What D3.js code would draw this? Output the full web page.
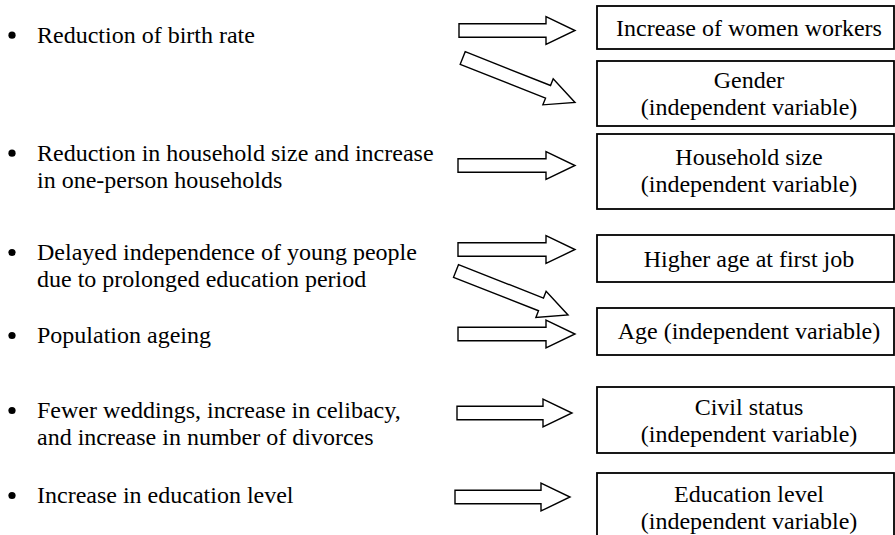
<!DOCTYPE html>
<html><head><meta charset="utf-8">
<script src="https://cdn.jsdelivr.net/npm/d3@7"></script>
<style>
body{margin:0;background:#fff}
svg{display:block}
svg text{font-family:"Liberation Serif","Times New Roman",Times,"DejaVu Serif",serif;}
</style>
</head><body><svg id="c" width="895" height="535"></svg>
<script>
// ---- content ----
const causes = [
  ["Reduction of birth rate"],
  ["Reduction in household size and increase", "in one-person households"],
  ["Delayed independence of young people", "due to prolonged education period"],
  ["Population ageing"],
  ["Fewer weddings, increase in celibacy,", "and increase in number of divorces"],
  ["Increase in education level"]
];
const factors = [
  ["Increase of women workers"],
  ["Gender", "(independent variable)"],
  ["Household size", "(independent variable)"],
  ["Higher age at first job"],
  ["Age (independent variable)"],
  ["Civil status", "(independent variable)"],
  ["Education level", "(independent variable)"]
];
// [cause index, factor index]
const links = [[0,0],[0,1],[1,2],[2,3],[2,4],[3,4],[4,5],[5,6]];

// ---- layout ----
const FS = 24, LH = 27.3;
const causeBaseline = [42.7, 160.7, 260, 343, 418, 503];
const boxTop    = [6, 61, 134, 235, 308, 387, 473];
const boxBottom = [49, 126, 209, 282, 355, 453, 570];
const boxBaseline = [36, 88, 165, 266.7, 339, 415, 502];
const boxX0 = 597, boxX1 = 894, boxTextX = 749;
const bulletX = 12, textX = 37;
const arrowGeom = [
  [459, 30.5, 575, 30.5],
  [462.7, 58, 575, 102.5],
  [458, 165.5, 575, 165.5],
  [458, 249.5, 575, 249.5],
  [456, 271, 568, 315],
  [458, 334, 575, 334],
  [457, 413, 572, 413],
  [455, 497, 570, 497]
];
const SHAFT = 6.8, HEAD = 14, HEADLEN = 29;

const svg = d3.select("#c");

// causes (bullets + text)
const cg = svg.append("g").selectAll("g").data(causes).join("g");
cg.append("circle")
  .attr("cx", bulletX)
  .attr("cy", (d, i) => causeBaseline[i] - 7.5)
  .attr("r", 3.6)
  .attr("fill", "#000");
cg.append("text")
  .style("font-size", FS + "px")
  .attr("fill", "#000")
  .selectAll("tspan")
  .data((d, i) => d.map((t, j) => ({t, y: causeBaseline[i] + j * LH})))
  .join("tspan")
  .attr("x", textX)
  .attr("y", d => d.y)
  .text(d => d.t);

// factor boxes
const fg = svg.append("g").selectAll("g").data(factors).join("g");
fg.append("rect")
  .attr("x", boxX0)
  .attr("y", (d, i) => boxTop[i])
  .attr("width", boxX1 - boxX0)
  .attr("height", (d, i) => boxBottom[i] - boxTop[i])
  .attr("fill", "#fff")
  .attr("stroke", "#000")
  .attr("stroke-width", 1.8);
fg.append("text")
  .style("font-size", FS + "px")
  .attr("text-anchor", "middle")
  .attr("fill", "#000")
  .selectAll("tspan")
  .data((d, i) => d.map((t, j) => ({t, y: boxBaseline[i] + j * LH})))
  .join("tspan")
  .attr("x", boxTextX)
  .attr("y", d => d.y)
  .text(d => d.t);

// block arrows
const arrowPath = L => {
  const b = L - HEADLEN;
  return d3.line()([[0,-SHAFT],[b,-SHAFT],[b,-HEAD],[L,0],[b,HEAD],[b,SHAFT],[0,SHAFT]]) + "Z";
};
svg.append("g").selectAll("path").data(links).join("path")
  .attr("d", (d, i) => {
    const [x0,y0,x1,y1] = arrowGeom[i];
    return arrowPath(Math.hypot(x1-x0, y1-y0));
  })
  .attr("transform", (d, i) => {
    const [x0,y0,x1,y1] = arrowGeom[i];
    return `translate(${x0},${y0}) rotate(${Math.atan2(y1-y0, x1-x0) * 180 / Math.PI})`;
  })
  .attr("fill", "#fff")
  .attr("stroke", "#000")
  .attr("stroke-width", 1.4)
  .attr("stroke-linejoin", "miter");
</script>
</body></html>
